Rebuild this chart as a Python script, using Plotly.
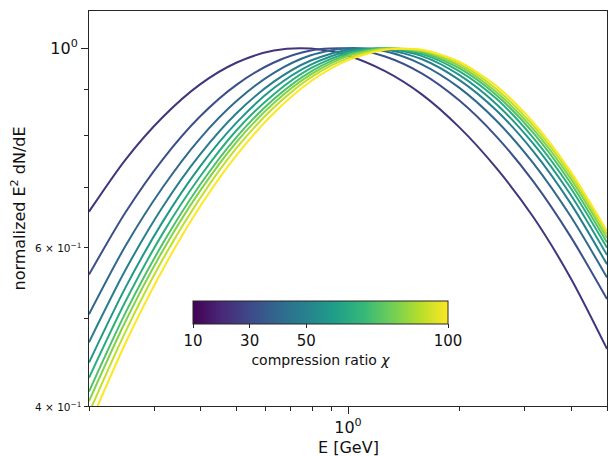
import math
import plotly.graph_objects as go
from plotly.colors import sample_colorscale

# ---- data ----
energy_gev = [0.2, 0.251, 0.316, 0.398, 0.501, 0.631, 0.794, 1.0, 1.259, 1.585,
              1.995, 2.512, 3.162, 3.981, 5.0]

chi_values = [10, 20, 30, 40, 50, 60, 70, 80, 90, 100]

sed_chi10 = [0.658, 0.752, 0.838, 0.911, 0.964, 0.994, 0.999, 0.981, 0.943, 0.888, 0.817, 0.736, 0.649, 0.556, 0.463]
sed_chi20 = [0.560, 0.657, 0.752, 0.839, 0.911, 0.964, 0.994, 0.999, 0.979, 0.937, 0.875, 0.798, 0.711, 0.618, 0.526]
sed_chi30 = [0.506, 0.603, 0.700, 0.793, 0.874, 0.939, 0.982, 1.000, 0.992, 0.959, 0.904, 0.831, 0.745, 0.651, 0.556]
sed_chi40 = [0.471, 0.567, 0.666, 0.761, 0.847, 0.918, 0.969, 0.996, 0.997, 0.972, 0.922, 0.853, 0.768, 0.673, 0.575]
sed_chi50 = [0.447, 0.542, 0.641, 0.738, 0.827, 0.903, 0.959, 0.992, 0.999, 0.980, 0.934, 0.867, 0.783, 0.688, 0.589]
sed_chi60 = [0.430, 0.523, 0.622, 0.719, 0.811, 0.889, 0.950, 0.988, 1.000, 0.985, 0.943, 0.879, 0.795, 0.700, 0.600]
sed_chi70 = [0.415, 0.508, 0.606, 0.704, 0.797, 0.878, 0.942, 0.983, 1.000, 0.989, 0.950, 0.887, 0.805, 0.709, 0.608]
sed_chi80 = [0.405, 0.497, 0.595, 0.693, 0.787, 0.869, 0.935, 0.980, 0.999, 0.992, 0.956, 0.894, 0.813, 0.717, 0.615]
sed_chi90 = [0.393, 0.484, 0.582, 0.680, 0.775, 0.859, 0.928, 0.975, 0.998, 0.994, 0.961, 0.901, 0.820, 0.724, 0.621]
sed_chi100 = [0.380, 0.470, 0.567, 0.666, 0.761, 0.847, 0.919, 0.970, 0.996, 0.996, 0.966, 0.908, 0.827, 0.730, 0.626]

all_sed = [sed_chi10, sed_chi20, sed_chi30, sed_chi40, sed_chi50,
           sed_chi60, sed_chi70, sed_chi80, sed_chi90, sed_chi100]

cbar_ticks = [10, 30, 50, 100]
x_major = [1.0]
x_minor = [0.2, 0.3, 0.4, 0.5, 0.6, 0.7, 0.8, 0.9, 2, 3, 4, 5]
y_major = [1.0]
y_minor = [0.4, 0.5, 0.6, 0.7, 0.8, 0.9]
y_minor_labeled = [0.4, 0.6]
y_minor_text = ["4 × 10<sup>−1</sup>", "6 × 10<sup>−1</sup>"]

FONT = "DejaVu Sans"
AX = "#262626"

# line colours sampled from viridis (first line is already a blue-purple)
colors = sample_colorscale("Viridis", [0.15 + 0.85 * (c - 10) / 90 for c in chi_values])

fig = go.Figure()
for chi, sed, col in zip(chi_values, all_sed, colors):
    fig.add_trace(go.Scatter(
        x=energy_gev, y=sed, mode="lines",
        line=dict(color=col, width=2, shape="spline", smoothing=0.8),
        name=f"chi={chi}", showlegend=False, hoverinfo="skip"))

# colour bar carrier
fig.add_trace(go.Scatter(
    x=[None], y=[None], mode="markers", showlegend=False,
    marker=dict(color=[10], colorscale="Viridis", cmin=10, cmax=100, showscale=True,
                colorbar=dict(
                    orientation="h", thickness=23, thicknessmode="pixels",
                    len=255, lenmode="pixels",
                    x=(320.5 - 89) / 518, xanchor="center",
                    y=(406 - 301) / 395, yanchor="top",
                    xpad=0, ypad=0, outlinewidth=1, outlinecolor=AX,
                    tickmode="array", tickvals=cbar_ticks,
                    ticks="outside", ticklen=4, tickcolor=AX,
                    tickfont=dict(family=FONT, size=15, color="#111"),
                    title=dict(text="compression ratio <i>χ</i>", side="bottom",
                               font=dict(family=FONT, size=14, color="#111")),
                ))))

fig.update_xaxes(
    type="log", range=[-0.69897, 0.69897],
    showline=True, linecolor=AX, linewidth=1, mirror=True,
    showgrid=False, zeroline=False,
    tickmode="array", tickvals=x_major, ticktext=["10<sup>0</sup>"],
    ticks="outside", ticklen=7, tickcolor=AX, tickwidth=1,
    tickfont=dict(family=FONT, size=16, color="#111"),
    minor=dict(tickmode="array", tickvals=x_minor, ticks="outside", ticklen=4,
               tickcolor=AX, tickwidth=1, showgrid=False),
)
fig.update_yaxes(
    type="log", range=[-0.39794, 0.04139],
    showline=True, linecolor=AX, linewidth=1, mirror=True,
    showgrid=False, zeroline=False,
    tickmode="array", tickvals=y_major, ticktext=["10<sup>0</sup>"],
    ticks="outside", ticklen=7, tickcolor=AX, tickwidth=1,
    tickfont=dict(family=FONT, size=16, color="#111"),
    minor=dict(tickmode="array", tickvals=y_minor, ticks="outside", ticklen=4,
               tickcolor=AX, tickwidth=1, showgrid=False),
)

y_lo, y_hi = -0.39794, 0.04139
annotations = []
for v, t in zip(y_minor_labeled, y_minor_text):
    annotations.append(dict(
        x=(83 - 89) / 518, xref="paper", xanchor="right",
        y=(math.log10(v) - y_lo) / (y_hi - y_lo), yref="paper", yanchor="middle",
        text=t, showarrow=False,
        font=dict(family=FONT, size=10.5, color="#111")))
annotations.append(dict(
    x=0.5, xref="paper", xanchor="center",
    y=-(447 - 406) / 395, yref="paper", yanchor="middle",
    text="E [GeV]", showarrow=False,
    font=dict(family=FONT, size=16, color="#111")))
annotations.append(dict(
    x=(19 - 89) / 518, xref="paper", xanchor="center",
    y=0.5, yref="paper", yanchor="middle", textangle=-90,
    text="normalized E<sup>2</sup> dN/dE", showarrow=False,
    font=dict(family=FONT, size=16, color="#111")))

fig.update_layout(
    width=609, height=456,
    margin=dict(l=89, r=2, t=11, b=50, autoexpand=False),
    paper_bgcolor="white", plot_bgcolor="white",
    font=dict(family=FONT),
    annotations=annotations,
)

fig.write_html("out.html", config={"displayModeBar": False},
               post_script="document.body.style.margin='0';")
